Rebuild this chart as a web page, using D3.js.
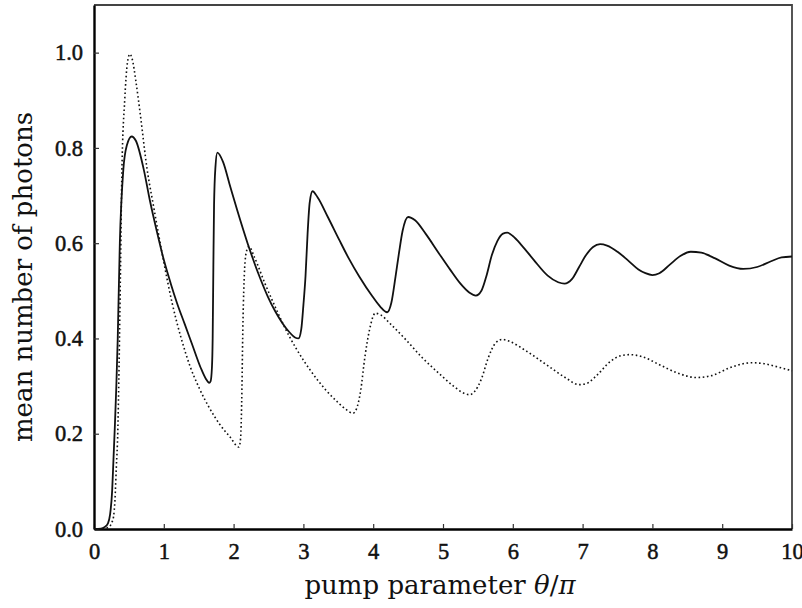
<!DOCTYPE html>
<html>
<head>
<meta charset="utf-8">
<script src="https://cdn.jsdelivr.net/npm/d3@7"></script>
<style>
  body { margin: 0; background: #fff; }
  svg text { font-family: "Liberation Serif", "DejaVu Serif", serif; fill: #111; }
</style>
</head>
<body>
<div id="chart"></div>
<script>
// courbe pleine (trait continu)
const solidX = [0, 0.1, 0.15, 0.2, 0.23, 0.26, 0.28, 0.3, 0.32, 0.34, 0.37, 0.42, 0.47, 0.54, 0.6, 0.714, 0.8, 0.9, 1.0, 1.1, 1.19, 1.3, 1.4, 1.53, 1.6, 1.65, 1.67, 1.69, 1.7, 1.71, 1.72, 1.74, 1.767, 1.85, 1.94, 2.05, 2.2, 2.35, 2.49, 2.6, 2.7, 2.8, 2.88, 2.93, 2.97, 3.0, 3.03, 3.06, 3.09, 3.13, 3.2, 3.35, 3.51, 3.65, 3.8, 3.99, 4.1, 4.2, 4.26, 4.32, 4.37, 4.42, 4.5, 4.6, 4.75, 4.94, 5.1, 5.25, 5.38, 5.47, 5.55, 5.62, 5.7, 5.78, 5.86, 5.92, 6.0, 6.13, 6.3, 6.5, 6.65, 6.74, 6.85, 6.95, 7.05, 7.15, 7.25, 7.35, 7.5, 7.65, 7.8, 7.9, 8.0, 8.1, 8.25, 8.4, 8.55, 8.7, 8.9, 9.1, 9.3, 9.5, 9.7, 9.85, 10];
const solidY = [0, 0.001, 0.004, 0.012, 0.03, 0.08, 0.15, 0.22, 0.30, 0.40, 0.60, 0.754, 0.805, 0.824, 0.815, 0.754, 0.69, 0.625, 0.565, 0.515, 0.474, 0.43, 0.39, 0.338, 0.316, 0.307, 0.31, 0.34, 0.40, 0.55, 0.68, 0.76, 0.79, 0.77, 0.725, 0.67, 0.60, 0.538, 0.488, 0.456, 0.432, 0.413, 0.402, 0.40, 0.42, 0.47, 0.53, 0.62, 0.685, 0.709, 0.697, 0.655, 0.608, 0.568, 0.53, 0.488, 0.467, 0.455, 0.475, 0.53, 0.58, 0.625, 0.655, 0.648, 0.62, 0.579, 0.545, 0.515, 0.496, 0.49, 0.50, 0.53, 0.575, 0.605, 0.62, 0.622, 0.615, 0.595, 0.565, 0.532, 0.518, 0.515, 0.525, 0.55, 0.575, 0.592, 0.598, 0.595, 0.582, 0.564, 0.545, 0.537, 0.533, 0.537, 0.555, 0.573, 0.582, 0.58, 0.568, 0.553, 0.546, 0.55, 0.562, 0.57, 0.572];

// courbe en pointillés
const dottedX = [0, 0.15, 0.22, 0.26, 0.28, 0.3, 0.32, 0.34, 0.36, 0.38, 0.4, 0.44, 0.48, 0.514, 0.55, 0.6, 0.667, 0.76, 0.85, 1.0, 1.12, 1.25, 1.38, 1.51, 1.65, 1.8, 1.95, 2.076, 2.1, 2.12, 2.13, 2.15, 2.18, 2.22, 2.3, 2.45, 2.6, 2.75, 2.9, 3.1, 3.32, 3.5, 3.62, 3.71, 3.76, 3.82, 3.88, 3.95, 4.03, 4.1, 4.25, 4.47, 4.7, 4.94, 5.15, 5.3, 5.38, 5.45, 5.55, 5.65, 5.75, 5.85, 5.95, 6.2, 6.5, 6.75, 6.95, 7.05, 7.2, 7.4, 7.55, 7.68, 7.85, 8.1, 8.35, 8.63, 8.85, 9.1, 9.3, 9.43, 9.6, 9.8, 10];
const dottedY = [0, 0.001, 0.005, 0.015, 0.026, 0.06, 0.13, 0.2, 0.35, 0.55, 0.754, 0.9, 0.98, 0.997, 0.985, 0.94, 0.866, 0.756, 0.68, 0.56, 0.474, 0.40, 0.34, 0.295, 0.255, 0.22, 0.193, 0.172, 0.19, 0.3, 0.4, 0.52, 0.58, 0.593, 0.57, 0.515, 0.465, 0.418, 0.378, 0.333, 0.292, 0.265, 0.25, 0.243, 0.252, 0.29, 0.36, 0.42, 0.453, 0.45, 0.43, 0.397, 0.36, 0.327, 0.30, 0.285, 0.282, 0.288, 0.315, 0.36, 0.39, 0.398, 0.394, 0.373, 0.343, 0.318, 0.303, 0.305, 0.322, 0.352, 0.364, 0.366, 0.362, 0.345, 0.328, 0.318, 0.322, 0.338, 0.347, 0.349, 0.347, 0.34, 0.332];

// graduations
const xTicks = [0, 1, 2, 3, 4, 5, 6, 7, 8, 9, 10];
const yTicks = [0, 0.2, 0.4, 0.6, 0.8, 1.0];

const width = 802;
const height = 608;
const margin = {top: 5, right: 10, bottom: 79, left: 94};

const svg = d3.select("#chart")
  .append("svg")
  .attr("width", width)
  .attr("height", height);

const xScale = d3.scaleLinear()
  .domain([0, 10])
  .range([margin.left, width - margin.right]);

const yScale = d3.scaleLinear()
  .domain([0, 1.1])
  .range([height - margin.bottom, margin.top]);

// cadre haut et droit
svg.append("path")
  .attr("d", `M${xScale(0)},${yScale(1.1)}H${xScale(10)}V${yScale(0)}`)
  .attr("fill", "none")
  .attr("stroke", "#444")
  .attr("stroke-width", 1.8);

// axes
const xAxis = svg.append("g")
  .attr("transform", `translate(0, ${yScale(0)})`)
  .call(d3.axisBottom(xScale).tickValues(xTicks).tickFormat(d3.format("d"))
    .tickSizeInner(-5).tickSizeOuter(0).tickPadding(14));

const yAxis = svg.append("g")
  .attr("transform", `translate(${xScale(0)}, 0)`)
  .call(d3.axisLeft(yScale).tickValues(yTicks).tickFormat(d3.format(".1f"))
    .tickSizeInner(-5).tickSizeOuter(0).tickPadding(11));

[xAxis, yAxis].forEach(g => {
  g.select(".domain").attr("stroke", "#000").attr("stroke-width", 2.4);
  g.selectAll(".tick line").attr("stroke", "#333").attr("stroke-width", 1.2);
  g.selectAll("text")
    .style("font-family", "'Liberation Serif', serif")
    .style("font-size", "22.5px")
    .style("fill", "#111")
    .style("stroke", "#111")
    .style("stroke-width", "0.5px");
});

// courbes
const line = d3.line()
  .x(d => xScale(d[0]))
  .y(d => yScale(d[1]))
  .curve(d3.curveMonotoneX);

svg.append("path")
  .datum(dottedX.map((x, i) => [x, dottedY[i]]))
  .attr("d", line)
  .attr("fill", "none")
  .attr("stroke", "#111")
  .attr("stroke-width", 1.6)
  .attr("stroke-dasharray", "1.6,2.6");

svg.append("path")
  .datum(solidX.map((x, i) => [x, solidY[i]]))
  .attr("d", line)
  .attr("fill", "none")
  .attr("stroke", "#111")
  .attr("stroke-width", 1.8);

// titres des axes
svg.append("text")
  .attr("x", (xScale(0) + xScale(10)) / 2 - 3)
  .attr("y", 594)
  .attr("text-anchor", "middle")
  .style("font-family", "'DejaVu Serif', serif")
  .style("font-size", "26px")
  .html('pump parameter <tspan font-style="italic">θ</tspan>/<tspan font-style="italic">π</tspan>');

svg.append("text")
  .attr("transform", `translate(32, 277) rotate(-90)`)
  .attr("text-anchor", "middle")
  .style("font-family", "'DejaVu Serif', serif")
  .style("font-size", "26px")
  .text("mean number of photons");
</script>
</body>
</html>
